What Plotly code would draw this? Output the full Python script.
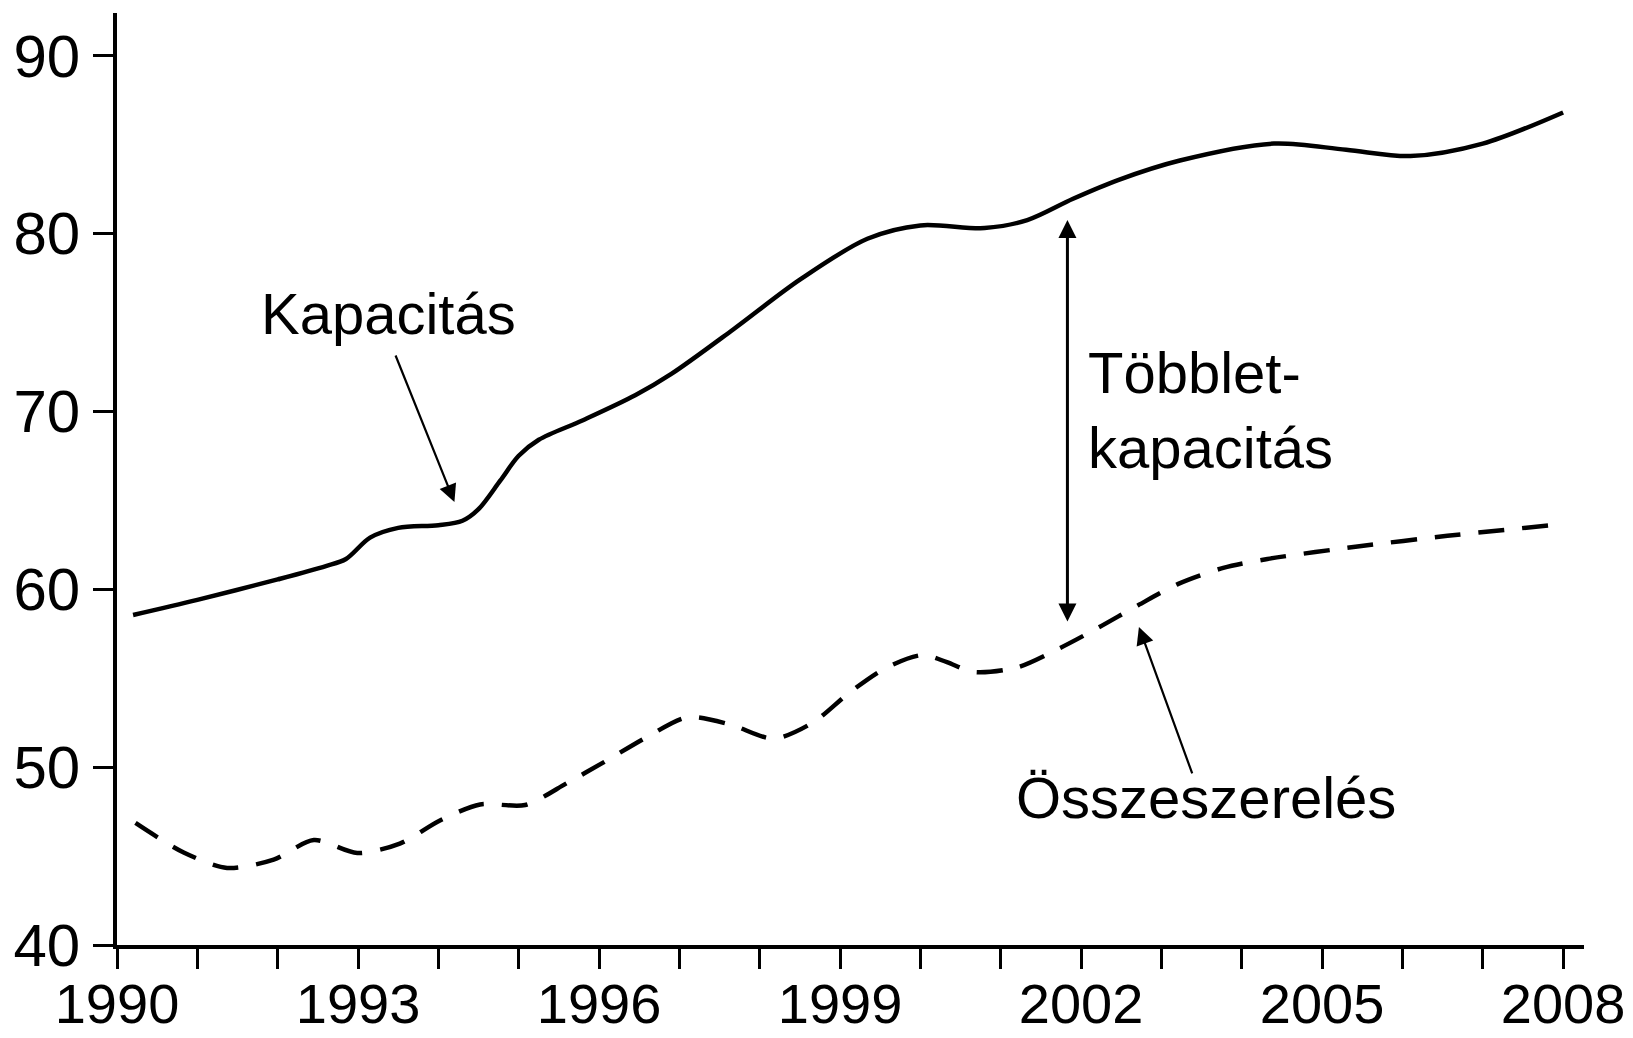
import plotly.graph_objects as go

# Kapacitás (solid line)
kap_years = [1990.2, 1991.0, 1992.0, 1992.6, 1992.85, 1993.15, 1993.5, 1994.0, 1994.3,
             1994.5, 1994.77, 1995.0, 1995.25, 1995.8, 1996.45, 1996.9, 1997.67, 1998.5,
             1999.34, 2000.0, 2000.8, 2001.33, 2001.9, 2002.46, 2003.23, 2004.4, 2005.3,
             2006.1, 2007.0, 2008.0]
kap_values = [58.55, 59.4, 60.55, 61.3, 61.7, 62.9, 63.45, 63.6, 63.85,
              64.5, 66.1, 67.5, 68.4, 69.5, 70.9, 72.1, 74.6, 77.4,
              79.7, 80.45, 80.3, 80.75, 81.95, 83.0, 84.1, 85.05, 84.7,
              84.35, 85.05, 86.8]

# Összeszerelés (dashed line)
ossz_years = [1990.23, 1990.83, 1991.37, 1991.95, 1992.45, 1992.99, 1993.52, 1994.02,
              1994.52, 1995.08, 1995.6, 1996.05, 1996.6, 1997.1, 1997.63, 1998.17,
              1998.66, 1999.12, 1999.58, 2000.03, 2000.33, 2000.66, 2001.2, 2001.74,
              2002.22, 2002.71, 2003.21, 2003.77, 2004.32, 2005.44, 2006.56, 2007.86]
ossz_values = [46.86, 45.2, 44.33, 44.8, 45.9, 45.17, 45.7, 47.0,
               47.9, 47.87, 49.1, 50.25, 51.7, 52.8, 52.4, 51.6,
               52.5, 54.2, 55.6, 56.3, 55.9, 55.35, 55.6, 56.7,
               57.85, 59.1, 60.3, 61.2, 61.7, 62.4, 63.0, 63.6]

x_tick_vals = list(range(1990, 2009))
x_tick_text = [str(y) if (y - 1990) % 3 == 0 else "" for y in x_tick_vals]
y_tick_vals = [40, 50, 60, 70, 80, 90]
y_tick_text = ["40", "50", "60", "70", "80", "90"]

FONT = "Liberation Sans, Arial, sans-serif"
FS = 58

fig = go.Figure()
fig.add_trace(go.Scatter(x=kap_years, y=kap_values, mode="lines",
                         line=dict(color="black", width=4.5, shape="spline", smoothing=0.9),
                         showlegend=False, hoverinfo="skip"))
fig.add_trace(go.Scatter(x=ossz_years, y=ossz_values, mode="lines",
                         line=dict(color="black", width=4.5, shape="spline", smoothing=0.8,
                                   dash="26px,18px"),
                         showlegend=False, hoverinfo="skip"))

annotations = [
    dict(x=1991.77, y=75.5, text="Kapacitás", showarrow=False, xanchor="left", yanchor="middle"),
    dict(x=2002.06, y=70.1, text="Többlet-<br>kapacitás", showarrow=False, xanchor="left",
         yanchor="middle", align="left"),
    dict(x=2001.16, y=48.3, text="Összeszerelés", showarrow=False, xanchor="left", yanchor="middle"),
    # arrows
    dict(x=1994.2, y=64.9, ax=1993.46, ay=73.22, axref="x", ayref="y", text="",
         showarrow=True, arrowhead=2, arrowsize=1.6, arrowwidth=2.2, arrowcolor="black"),
    dict(x=2001.83, y=80.75, ax=2001.83, ay=58.1, axref="x", ayref="y", text="",
         showarrow=True, arrowhead=2, arrowside="end+start", arrowsize=1.2, arrowwidth=3,
         arrowcolor="black"),
    dict(x=2002.72, y=57.88, ax=2003.39, ay=49.56, axref="x", ayref="y", text="",
         showarrow=True, arrowhead=2, arrowsize=1.6, arrowwidth=2.2, arrowcolor="black"),
]
for a in annotations:
    a.setdefault("font", dict(family=FONT, size=FS, color="black"))
    a["xref"] = "x"
    a["yref"] = "y"

fig.update_layout(
    width=1617, height=1030,
    margin=dict(l=109, r=41, t=5, b=93, autoexpand=False),
    paper_bgcolor="white", plot_bgcolor="white",
    font=dict(family=FONT, size=FS, color="black"),
    annotations=annotations,
    xaxis=dict(range=[1990, 2008.26], tickmode="array", tickvals=x_tick_vals, ticktext=x_tick_text,
               ticks="outside", ticklen=20, tickwidth=2.5, tickcolor="black", automargin=False,
               showline=True, linewidth=3.5, linecolor="black", showgrid=False, zeroline=False,
               tickfont=dict(family=FONT, size=56, color="black"), ticklabelstandoff=-13,
               ticklabeloverflow="allow"),
    yaxis=dict(range=[40, 92.39], tickmode="array", tickvals=y_tick_vals, ticktext=y_tick_text,
               ticks="outside", ticklen=20, tickwidth=2.5, tickcolor="black", automargin=False,
               showline=True, linewidth=3.5, linecolor="black", showgrid=False, zeroline=False,
               tickfont=dict(family=FONT, size=60, color="black"), ticklabelstandoff=1,
               ticklabeloverflow="allow"),
)

fig.write_html("out.html")
